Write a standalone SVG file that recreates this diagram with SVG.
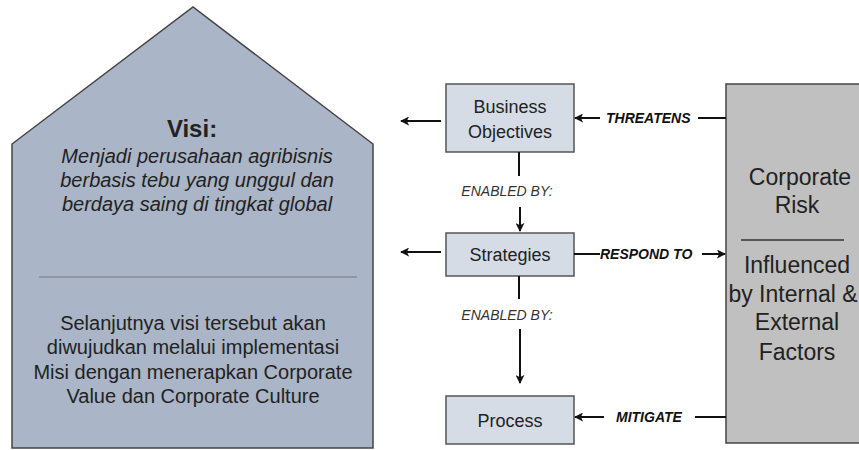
<svg xmlns="http://www.w3.org/2000/svg" width="859" height="450" viewBox="0 0 859 450">
  <defs>
    <marker id="arrow" viewBox="0 0 10 10" refX="9" refY="5" markerWidth="4.5" markerHeight="4.5" orient="auto" markerUnits="strokeWidth">
      <path d="M0,0 L10,5 L0,10 L2.5,5 z" fill="#111"/>
    </marker>
  </defs>
  <style>
    text { font-family: "Liberation Sans", Arial, sans-serif; fill: #222; }
    .box { fill: #d6dce6; stroke: #555; stroke-width: 1.5; }
    .node-label { font-size: 18px; text-anchor: middle; }
    .edge { stroke: #111; stroke-width: 2; fill: none; }
    .tag { font-size: 14px; font-weight: bold; font-style: italic; fill: #111; }
    .enabled { font-size: 14px; font-style: italic; text-anchor: middle; fill: #333; }
    .risk-label { font-size: 23px; text-anchor: middle; }
  </style>

  <!-- Vision house -->
  <g id="visi">
    <path d="M12,144 L193,7 L373,144 L373,448 L12,448 Z" fill="#aab5c8" stroke="#444" stroke-width="1.5"/>
    <text x="192" y="137" font-size="24" font-weight="bold" text-anchor="middle" fill="#111">Visi:</text>
    <g font-size="20" font-style="italic" text-anchor="middle">
      <text x="197" y="163">Menjadi perusahaan agribisnis</text>
      <text x="197" y="187">berbasis tebu yang unggul dan</text>
      <text x="197" y="211">berdaya saing di tingkat global</text>
    </g>
    <line x1="39" y1="277" x2="357" y2="277" stroke="#777" stroke-width="1.2"/>
    <g font-size="20" text-anchor="middle">
      <text x="193" y="330">Selanjutnya visi tersebut akan</text>
      <text x="193" y="354">diwujudkan melalui implementasi</text>
      <text x="193" y="379">Misi dengan menerapkan Corporate</text>
      <text x="193" y="403">Value dan Corporate Culture</text>
    </g>
  </g>

  <!-- Business Objectives -->
  <g id="business-objectives">
    <rect class="box" x="446" y="84" width="128" height="68"/>
    <text class="node-label" x="510" y="113">Business</text>
    <text class="node-label" x="510" y="138">Objectives</text>
  </g>

  <!-- Strategies -->
  <g id="strategies">
    <rect class="box" x="446" y="233" width="128" height="43"/>
    <text class="node-label" x="510" y="261">Strategies</text>
  </g>

  <!-- Process -->
  <g id="process">
    <rect class="box" x="446" y="396" width="128" height="48"/>
    <text class="node-label" x="510" y="427">Process</text>
  </g>

  <!-- Corporate Risk -->
  <g id="corporate-risk">
    <rect x="726" y="84" width="145" height="359" fill="#c0c0c0" stroke="#444" stroke-width="1.5"/>
    <text class="risk-label" x="800" y="185">Corporate</text>
    <text class="risk-label" x="797" y="213">Risk</text>
    <line x1="741" y1="240" x2="844" y2="240" stroke="#333" stroke-width="1.5"/>
    <text class="risk-label" x="797" y="273">Influenced</text>
    <text class="risk-label" x="793" y="302" font-size="22">by Internal &amp;</text>
    <text class="risk-label" x="797" y="330">External</text>
    <text class="risk-label" x="797" y="360">Factors</text>
  </g>

  <!-- Connectors -->
  <g id="connectors">
    <line class="edge" x1="441" y1="121" x2="401" y2="121" marker-end="url(#arrow)"/>
    <line class="edge" x1="441" y1="252" x2="401" y2="252" marker-end="url(#arrow)"/>

    <line class="edge" x1="600" y1="118" x2="575" y2="118" marker-end="url(#arrow)"/>
    <text class="tag" x="606" y="123">THREATENS</text>
    <line class="edge" x1="698" y1="118" x2="726" y2="118"/>

    <line class="edge" x1="574" y1="254" x2="600" y2="254"/>
    <text class="tag" x="600" y="259">RESPOND TO</text>
    <line class="edge" x1="702" y1="254" x2="725" y2="254" marker-end="url(#arrow)"/>

    <line class="edge" x1="604" y1="417" x2="575" y2="417" marker-end="url(#arrow)"/>
    <text class="tag" x="616" y="422">MITIGATE</text>
    <line class="edge" x1="695" y1="417" x2="726" y2="417"/>

    <line class="edge" x1="519" y1="152" x2="519" y2="176"/>
    <text class="enabled" x="507" y="196">ENABLED BY:</text>
    <line class="edge" x1="520" y1="207" x2="520" y2="231" marker-end="url(#arrow)"/>

    <line class="edge" x1="519" y1="276" x2="519" y2="299"/>
    <text class="enabled" x="507" y="320">ENABLED BY:</text>
    <line class="edge" x1="520" y1="329" x2="520" y2="383" marker-end="url(#arrow)"/>
  </g>
</svg>
